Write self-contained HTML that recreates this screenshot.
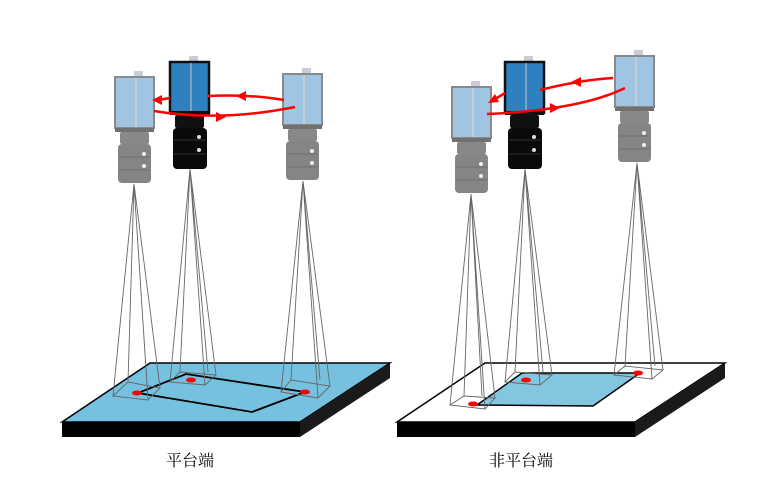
<!DOCTYPE html><html><head><meta charset="utf-8"><style>body{margin:0;background:#fff}svg{display:block}</style></head><body>
<svg width="780" height="490" viewBox="0 0 780 490" xmlns="http://www.w3.org/2000/svg">
<defs>
<g id="gcam">
<rect x="19" y="-6" width="9" height="6" fill="#c8ccd4"/>
<rect x="0" y="0" width="39" height="51" fill="#9fc5e3" stroke="#8a8a8a" stroke-width="2"/>
<line x1="21" y1="1" x2="21" y2="50" stroke="#d0d0d0" stroke-width="1.5"/>
<rect x="0" y="51" width="39" height="4" fill="#707070"/>
<rect x="5" y="55" width="29" height="12" fill="#888" rx="2"/>
<rect x="3" y="67" width="33" height="39" fill="#858585" rx="4"/>
<line x1="4" y1="80" x2="35" y2="80" stroke="#6e6e6e"/><line x1="4" y1="93" x2="35" y2="93" stroke="#6e6e6e"/>
<circle cx="29" cy="77" r="2" fill="#eee"/><circle cx="29" cy="89" r="2" fill="#eee"/>
</g>
<g id="bcam">
<rect x="19" y="-6" width="9" height="6" fill="#c8ccd4"/>
<rect x="0" y="0" width="39" height="51" fill="#2f80bf" stroke="#111" stroke-width="2.5"/>
<line x1="21" y1="1" x2="21" y2="50" stroke="#9ab" stroke-width="1.5"/>
<rect x="0" y="49" width="39" height="4" fill="#111"/>
<rect x="5" y="53" width="29" height="13" fill="#111" rx="2"/>
<rect x="3" y="66" width="34" height="41" fill="#0a0a0a" rx="4"/>
<line x1="4" y1="78" x2="36" y2="78" stroke="#333"/><line x1="4" y1="92" x2="36" y2="92" stroke="#333"/>
<circle cx="29" cy="75" r="2" fill="#ddd"/><circle cx="29" cy="88" r="2" fill="#ddd"/>
</g>
</defs>
<polygon points="62,422 150,363 390,363 300,422" fill="#76c1df" stroke="#000" stroke-width="1.5"/>
<rect x="62" y="422" width="238" height="15" fill="#000"/>
<polygon points="300,422 390,363 390,378 300,437" fill="#1a1a1a"/>
<polygon points="138,393 186,374 305,392 252,412" fill="none" stroke="#000" stroke-width="1.8"/>
<polygon points="397,422 485,363 725,363 635,422" fill="#fff" stroke="#000" stroke-width="1.5"/>
<rect x="397" y="422" width="238" height="15" fill="#000"/>
<polygon points="635,422 725,363 725,378 635,437" fill="#1a1a1a"/>
<polygon points="477,405 522,373 640,373 593,406" fill="#82c6e0" stroke="#000" stroke-width="1.5"/>
<g fill="none" stroke="#666" stroke-width="0.9">
<path d="M134,184 L113,396 M134,184 L128,382 M134,184 L147,384 M134,184 L160,388 M113,396 L128,382 L160,388 L148,400 Z M134,184 L148,400"/>
<path d="M190,169 L170,382 M190,169 L180,372 M190,169 L208,372 M190,169 L216,375 M170,382 L180,372 L216,375 L205,385 Z M190,169 L205,385"/>
<path d="M303,181 L281,392 M303,181 L291,380 M303,181 L320,380 M303,181 L330,386 M281,392 L291,380 L330,386 L318,398 Z M303,181 L318,398"/>
<path d="M471,194 L450,405 M471,194 L464,396 M471,194 L482,396 M471,194 L495,398 M450,405 L464,396 L495,398 L485,409 Z M471,194 L485,409"/>
<path d="M525,169 L505,382 M525,169 L515,372 M525,169 L543,372 M525,169 L552,375 M505,382 L515,372 L552,375 L540,385 Z M525,169 L540,385"/>
<path d="M637,163 L614,375 M637,163 L625,366 M637,163 L655,366 M637,163 L663,370 M614,375 L625,366 L663,370 L652,379 Z M637,163 L652,379"/>
</g>
<g fill="#f00">
<ellipse cx="137" cy="393" rx="5" ry="2.5"/><ellipse cx="191" cy="380" rx="5" ry="2.5"/><ellipse cx="305" cy="392" rx="5" ry="2.5"/>
<ellipse cx="473" cy="404" rx="5" ry="2.5"/><ellipse cx="526" cy="380" rx="5" ry="2.5"/><ellipse cx="638" cy="373" rx="5" ry="2.5"/>
</g>
<use href="#gcam" x="115" y="77"/>
<use href="#bcam" x="170" y="62"/>
<use href="#gcam" x="283" y="74"/>
<use href="#gcam" x="452" y="87"/>
<use href="#bcam" x="505" y="62"/>
<use href="#gcam" x="615" y="56"/>
<g fill="none" stroke="#f00" stroke-width="2.5">
<path d="M284,100 Q250,94 208,96"/>
<path d="M170,98 L158,100"/>
<path d="M154,111 Q220,122 295,107"/>
<path d="M613,78 Q580,80 540,90"/>
<path d="M505,93 L492,101"/>
<path d="M487,114 Q580,110 625,88"/>
</g>
<g fill="#f00">
<polygon points="236,96 246,91 246,101"/>
<polygon points="152,100 162,95 162,105"/>
<polygon points="226,117 216,112 216,122"/>
<polygon points="571,82 581,77 581,87"/>
<polygon points="488,103 495,94 499,102"/>
<polygon points="560,108 550,103 550,113"/>
</g>
<text x="190" y="466" font-family="Liberation Serif, Noto Serif CJK SC, serif" font-size="16" text-anchor="middle">平台端</text>
<text x="521" y="466" font-family="Liberation Serif, Noto Serif CJK SC, serif" font-size="16" text-anchor="middle">非平台端</text>
</svg>
</body></html>
